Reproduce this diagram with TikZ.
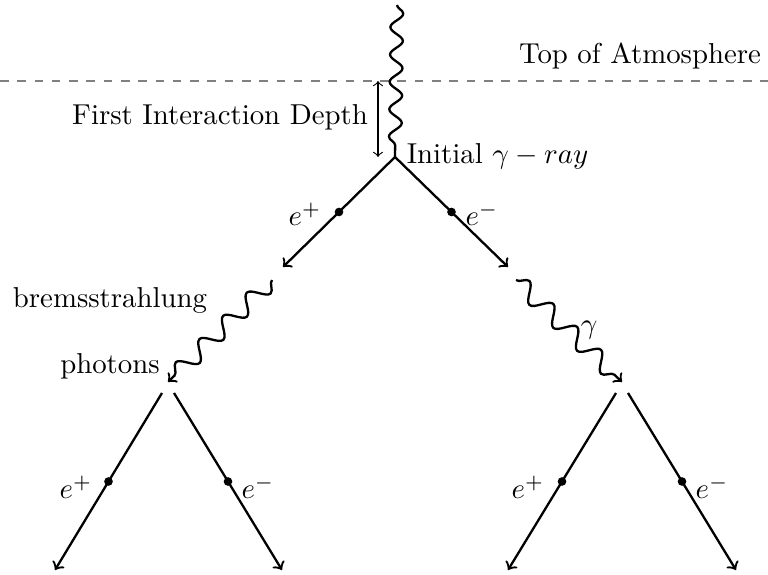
\documentclass[tikz,border=0pt]{standalone}
\usepackage{amsmath,amssymb}
\usetikzlibrary{decorations.pathmorphing}
\tikzset{
  photon/.style={decorate,decoration={snake,amplitude=3pt,segment length=11.5pt,post length=1mm}},
  lepton/.style={->},
  vtx/.style={circle,fill,inner sep=0pt,minimum size=3pt}
}
\begin{document}
\begin{tikzpicture}[x=0.3472pt,y=0.3472pt,line width=0.8pt]
\path[use as bounding box] (0,0) rectangle (768,575);
\coordinate (src) at (397,570); \coordinate (v0) at (395,418);
\coordinate (atmL) at (0,494); \coordinate (atmR) at (768,494);
\coordinate (fiTop) at (378,494); \coordinate (fiBot) at (378,418);
\coordinate (pA) at (283,308); \coordinate (eA) at (508,308);
\coordinate (gLs) at (272,295); \coordinate (gLe) at (168,193);
\coordinate (gRs) at (516,295); \coordinate (gRe) at (622,193);
\coordinate (aL) at (162,182); \coordinate (aR) at (174,182);
\coordinate (aLe) at (55,5); \coordinate (aRe) at (282,5);
\coordinate (bL) at (616,182); \coordinate (bR) at (628,182);
\coordinate (bLe) at (508,5); \coordinate (bRe) at (736,5);
% atmosphere and depth
\draw[gray,dashed,line width=0.4pt] (atmL)--(atmR);
\draw[<->,line width=0.4pt] (fiTop)--(fiBot);
% photons
\draw[decorate,decoration={snake,amplitude=2.2pt,segment length=9.5pt}] (src)--(v0);
\draw[->,photon] (gLs)--(gLe);
\draw[->,photon] (gRs)--(gRe);
% pairs
\draw[lepton] (v0)-- node[vtx] (d1) {} (pA);
\draw[lepton] (v0)-- node[vtx] (d2) {} (eA);
\draw[lepton] (aL)-- node[vtx] (d3) {} (aLe);
\draw[lepton] (aR)-- node[vtx] (d4) {} (aRe);
\draw[lepton] (bL)-- node[vtx] (d5) {} (bLe);
\draw[lepton] (bR)-- node[vtx] (d6) {} (bRe);
% labels
\node (toa) at (640,519) {Top of Atmosphere};
\node (fid) at (220,458) {First Interaction Depth};
\node[anchor=west] (ini) at (396,419) {Initial \(\gamma-ray\)};
\node (brem) at (110,275) {bremsstrahlung};
\node (phot) at (110,209) {photons};
\node (gam) at (589,245) {\(\gamma\)};
\node (lp1) at (305,361) {\(e^+\)}; \node (lm1) at (482,361) {\(e^-\)};
\node (lp2) at (76,88) {\(e^+\)}; \node (lm2) at (258,88) {\(e^-\)};
\node (lp3) at (528,88) {\(e^+\)}; \node (lm3) at (712,88) {\(e^-\)};
\end{tikzpicture}
\end{document}
